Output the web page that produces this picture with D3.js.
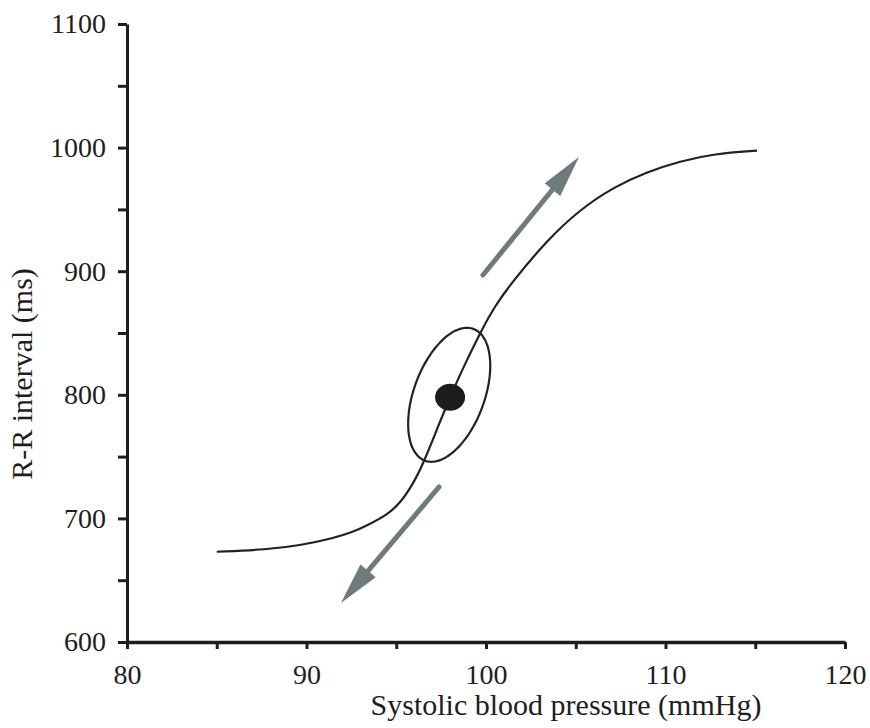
<!DOCTYPE html>
<html>
<head>
<meta charset="utf-8">
<script src="https://cdn.jsdelivr.net/npm/d3@7"></script>
<style>
  html, body { margin: 0; padding: 0; background: #ffffff; }
  svg { display: block; }
  text { font-family: "Liberation Serif", "Times New Roman", serif; fill: #1e1e1e; }
</style>
</head>
<body>
<svg id="chart" width="870" height="728"></svg>
<script>
// ---- data ----
const xTicks = [80, 85, 90, 95, 100, 105, 110, 115, 120];
const yTicks = [600, 650, 700, 750, 800, 850, 900, 950, 1000, 1050, 1100];
const xLabelTicks = [80, 90, 100, 110, 120];
const yLabelTicks = [600, 700, 800, 900, 1000, 1100];

// baroreflex curve: systolic BP (mmHg) vs R-R interval (ms)
const bpValues = [85, 87.8, 89.6, 91.5, 92.5, 93.4, 94.5, 95.2, 95.9, 96.5, 97.4, 98.0, 98.6, 99.7, 100.5, 101.5, 103.4, 105.2, 107.1, 109.0, 110.8, 112.7, 115.1];
const rrValues = [673, 674.8, 678, 684, 688.5, 694.5, 703, 712, 727, 744, 777, 798, 818, 851, 872, 892, 925, 949.5, 968, 980.5, 989, 995, 997.5];

// operating point and its variability ellipse (data units)
const operatingPoint = [98, 798];
const ellipseCenter = [97.95, 800];
const ellipseMajor = [1.35, 53.3];
const ellipseMinor = [1.846, -9.86];

// direction arrows [tail, tip] in data units
const arrowUp = [[99.83, 896.9], [105.18, 992.4]];
const arrowDown = [[97.38, 725.4], [91.92, 631.6]];

// ---- drawing ----
const svg = d3.select("#chart");
const x = d3.scaleLinear().domain([80, 120]).range([127, 845]);
const y = d3.scaleLinear().domain([600, 1100]).range([642, 24]);

// curve
const pts = bpValues.map((b, i) => [b, rrValues[i]]);
svg.append("path")
  .datum(pts)
  .attr("fill", "none")
  .attr("stroke", "#222")
  .attr("stroke-width", 2.2)
  .attr("d", d3.line().x(d => x(d[0])).y(d => y(d[1])).curve(d3.curveBasis));

// ellipse
const ellPts = d3.range(0, 360, 3).map(deg => {
  const t = deg * Math.PI / 180;
  return [
    ellipseCenter[0] + ellipseMajor[0] * Math.cos(t) + ellipseMinor[0] * Math.sin(t),
    ellipseCenter[1] + ellipseMajor[1] * Math.cos(t) + ellipseMinor[1] * Math.sin(t)
  ];
});
svg.append("path")
  .datum(ellPts)
  .attr("fill", "none")
  .attr("stroke", "#222")
  .attr("stroke-width", 2.2)
  .attr("d", d3.line().x(d => x(d[0])).y(d => y(d[1])).curve(d3.curveCardinalClosed));

// operating point
svg.append("ellipse")
  .attr("cx", x(operatingPoint[0]))
  .attr("cy", y(operatingPoint[1]))
  .attr("rx", 15)
  .attr("ry", 13.5)
  .attr("fill", "#1c1c1c");

// arrows
function drawArrow(a) {
  const x0 = x(a[0][0]), y0 = y(a[0][1]);
  const x1 = x(a[1][0]), y1 = y(a[1][1]);
  const dx = x1 - x0, dy = y1 - y0;
  const len = Math.hypot(dx, dy);
  const ux = dx / len, uy = dy / len;
  const hl = 42, hw = 10;
  const bx = x1 - ux * hl, by = y1 - uy * hl;
  const col = "#6d7b7c";
  svg.append("line")
    .attr("x1", x0).attr("y1", y0)
    .attr("x2", bx + ux * 4).attr("y2", by + uy * 4)
    .attr("stroke", col).attr("stroke-width", 5).attr("stroke-linecap", "round");
  svg.append("path")
    .attr("d", `M${x1},${y1}L${bx - uy * hw},${by + ux * hw}L${bx + uy * hw},${by - ux * hw}Z`)
    .attr("fill", col);
}
drawArrow(arrowUp);
drawArrow(arrowDown);

// axes
const axisColor = "#1e1e1a";
const xAxis = d3.axisBottom(x)
  .tickValues(xTicks)
  .tickSizeInner(7).tickSizeOuter(0)
  .tickPadding(15)
  .tickFormat(d => xLabelTicks.includes(d) ? d : "");
const gx = svg.append("g").attr("transform", `translate(0,${y(600)})`).call(xAxis);
gx.select(".domain").attr("stroke", axisColor).attr("stroke-width", 3.5);
gx.selectAll(".tick line").attr("stroke", axisColor).attr("stroke-width", 3);
gx.selectAll(".tick text")
  .attr("font-family", "Liberation Serif, Times New Roman, serif")
  .attr("font-size", 28).attr("fill", "#1e1e1e");

const yAxis = d3.axisLeft(y)
  .tickValues(yTicks)
  .tickSizeInner(9).tickSizeOuter(0)
  .tickPadding(12)
  .tickFormat(d => yLabelTicks.includes(d) ? d : "");
const gy = svg.append("g").attr("transform", `translate(${x(80)},0)`).call(yAxis);
gy.select(".domain").attr("stroke", axisColor).attr("stroke-width", 3);
gy.selectAll(".tick line").attr("stroke", axisColor).attr("stroke-width", 3);
gy.selectAll(".tick text")
  .attr("font-family", "Liberation Serif, Times New Roman, serif")
  .attr("font-size", 28).attr("fill", "#1e1e1e");

// axis titles
svg.append("text")
  .attr("x", 566).attr("y", 715)
  .attr("text-anchor", "middle")
  .attr("font-size", 30)
  .text("Systolic blood pressure (mmHg)");

svg.append("text")
  .attr("transform", "translate(32,374) rotate(-90)")
  .attr("text-anchor", "middle")
  .attr("font-size", 30)
  .text("R-R interval (ms)");
</script>
</body>
</html>
